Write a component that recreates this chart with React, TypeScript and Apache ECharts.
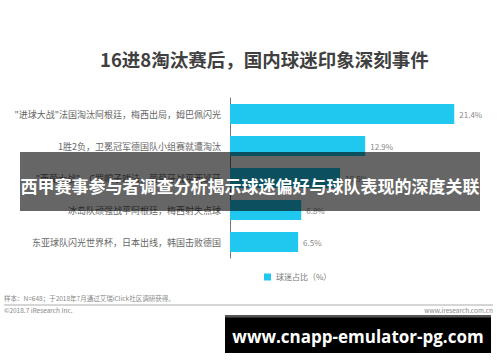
import React, { useEffect, useRef } from "react";
import * as echarts from "echarts";

const title = "16进8淘汰赛后，国内球迷印象深刻事件";
const categories = [
  "\"进球大战\"法国淘汰阿根廷，梅西出局，姆巴佩闪光",
  "1胜2负，卫冕冠军德国队小组赛就遭淘汰",
  "\"西葡大战\"，C罗帽子戏法，葡萄牙战平西班牙",
  "冰岛队顽强战平阿根廷，梅西射失点球",
  "东亚球队闪光世界杯，日本出线，韩国击败德国",
];
const values = [21.4, 12.9, 10.5, 6.8, 6.5];
const seriesName = "球迷占比（%）";
const bannerText = "西甲赛事参与者调查分析揭示球迷偏好与球队表现的深度关联";
const sampleNote = "样本：N=648；于2018年7月通过艾瑞iClick社区调研获得。";
const copyright = "©2018.7 iResearch Inc.";
const site = "www.iresearch.com.cn";
const watermark = "www.cnapp-emulator-pg.com";

const CJK = "'Noto Sans CJK SC', 'Noto Sans', sans-serif";

export default function App() {
  const ref = useRef<HTMLDivElement>(null);
  useEffect(() => {
    document.body.style.margin = "0";
    if (!ref.current) return;
    const chart = echarts.init(ref.current, undefined, { renderer: "svg" });
    chart.setOption({
      animation: false,
      backgroundColor: "#ffffff",
      textStyle: { fontFamily: CJK },
      legend: {
        data: [seriesName],
        left: 259,
        top: 268,
        itemWidth: 7,
        itemHeight: 7,
        itemGap: 4,
        icon: "rect",
        textStyle: { fontSize: 8, color: "#777", fontFamily: CJK },
      },
      grid: { left: 230, top: 98, width: 262, height: 160 },
      xAxis: {
        type: "value",
        min: 0,
        max: 25,
        show: false,
      },
      yAxis: {
        type: "category",
        data: categories,
        inverse: true,
        axisLine: { show: true, lineStyle: { color: "#777", width: 1 } },
        axisTick: { show: false },
        axisLabel: { fontSize: 9, color: "#666", margin: 9, fontFamily: CJK },
      },
      series: [
        {
          name: seriesName,
          type: "bar",
          data: values,
          barWidth: 20,
          itemStyle: { color: "#20c8f0" },
          label: {
            show: true,
            position: "right",
            distance: 5,
            formatter: "{c}%",
            fontSize: 8,
            color: "#888",
            fontFamily: CJK,
          },
        },
      ],
      graphic: [
        {
          type: "text",
          left: 100,
          top: 50,
          style: {
            text: title,
            fontSize: 18.5,
            fontWeight: "bold",
            fill: "#404040",
            fontFamily: CJK,
          },
        },
        {
          type: "rect",
          shape: { x: 20, y: 152, width: 460, height: 59 },
          style: { fill: "rgba(0,0,0,0.6)" },
          z: 100,
        },
        {
          type: "text",
          x: 250,
          y: 185,
          style: {
            text: bannerText,
            fontSize: 17,
            fontWeight: "bold",
            fill: "#ffffff",
            align: "center",
            verticalAlign: "middle",
            fontFamily: CJK,
          },
          z: 101,
        },
        {
          type: "text",
          x: 4,
          y: 298,
          style: { text: sampleNote, fontSize: 6.5, fill: "#888", verticalAlign: "middle", fontFamily: CJK },
        },
        {
          type: "line",
          shape: { x1: 4, y1: 305, x2: 493, y2: 305 },
          style: { stroke: "#c8c8c8", lineWidth: 1.5 },
        },
        {
          type: "text",
          x: 4,
          y: 309.5,
          style: { text: copyright, fontSize: 6.5, fill: "#888", verticalAlign: "middle", fontFamily: CJK },
        },
        {
          type: "text",
          x: 493,
          y: 309.5,
          style: { text: site, fontSize: 6.5, fill: "#888", align: "right", verticalAlign: "middle", fontFamily: CJK },
        },
        {
          type: "rect",
          shape: { x: 225, y: 315, width: 266, height: 38 },
          style: { fill: "#000000" },
          z: 100,
        },
        {
          type: "rect",
          shape: { x: 225, y: 315, width: 266, height: 2.5 },
          style: { fill: "#555555" },
          z: 101,
        },
        {
          type: "text",
          x: 358,
          y: 336,
          style: {
            text: watermark,
            fontSize: 17,
            fontWeight: "bold",
            fill: "#ffffff",
            align: "center",
            verticalAlign: "middle",
            fontFamily: "'Open Sans', 'DejaVu Sans', sans-serif",
          },
          z: 101,
        },
      ],
    });
    return () => chart.dispose();
  }, []);
  return <div ref={ref} style={{ width: 500, height: 362 }} />;
}
